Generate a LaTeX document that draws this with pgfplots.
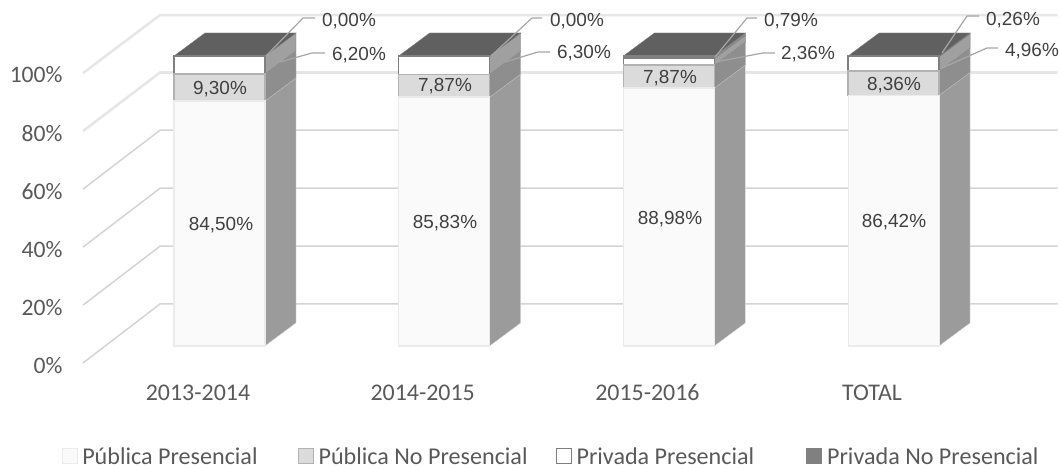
\documentclass[border=0pt]{standalone}
\usepackage{pgfplots}
\pgfplotsset{compat=1.18}
\usepackage{fontspec}
\setmainfont{Carlito}
\newfontfamily\arialf{Liberation Sans}
\definecolor{tickc}{HTML}{595959}
\definecolor{labc}{HTML}{404040}
\definecolor{gridc}{HTML}{D4D4D4}
\definecolor{gridt}{HTML}{E6E6E6}
\definecolor{leadc}{HTML}{A6A6A6}
\definecolor{sA}{HTML}{9B9B9B}
\definecolor{sB}{HTML}{8E8E8E}
\definecolor{sC}{HTML}{A0A0A0}
\definecolor{sD}{HTML}{8C8C8C}
\definecolor{topc}{HTML}{606060}
\pgfplotsset{
  base/.style={
    at={(70.07bp,91.1bp)},anchor=south west,
    scale only axis,width=988.68bp,height=365.4bp,
    xmin=-0.665,xmax=3.735,ymin=-11,ymax=115,
    clip=false,
    axis line style={draw=none},
    tick style={draw=none},
  }
}
\begin{document}
\begin{tikzpicture}[x=1bp,y=1bp]
\path (0,0) rectangle (1061,469);
% back wall, grid lines, side and top faces
\begin{axis}[base,
  xtick={-0.0957,0.9043,1.9043,2.9043},
  xticklabels={2013-2014,2014-2015,2015-2016,TOTAL},
  ytick={-6.55,13.5,33.6,53.7,73.7,93.8},
  yticklabels={0\%,20\%,40\%,60\%,80\%,100\%},
  yticklabel style={font=\fontsize{23.7}{23.7}\selectfont,text=tickc,xshift=-4bp,yshift=-1bp},
  xticklabel style={font=\fontsize{24}{24}\selectfont,text=tickc,text height=16bp,text depth=0bp,anchor=north,yshift=-3bp},
]
\foreach \ya/\yb in {-5.86/14.48,14.1/34.4,34.1/54.4,54.1/74.4}{
  \edef\tmp{\noexpand\addplot[gridc,line width=1.5bp,forget plot] coordinates {(-0.6075,\ya) (-0.2648,\yb) (3.73,\yb)};}
  \tmp
}
\foreach \ya/\yb in {74.1/94.3,94.1/114.1}{
  \edef\tmp{\noexpand\addplot[gridt,line width=2.6bp,forget plot] coordinates {(-0.6075,\ya) (-0.2648,\yb) (3.73,\yb)};}
  \tmp
}
% bar 1
\addplot[fill=sA,draw=white!90!black,forget plot] coordinates {(0.2025,0) (0.3405,7.93) (0.3405,92.43) (0.2025,84.5)} --cycle;
\addplot[fill=sB,draw=black!30,forget plot] coordinates {(0.2025,84.5) (0.3405,92.43) (0.3405,101.73) (0.2025,93.8)} --cycle;
\addplot[fill=sC,draw=gray,forget plot] coordinates {(0.2025,93.8) (0.3405,101.73) (0.3405,107.93) (0.2025,100)} --cycle;
\addplot[fill=topc,draw=gray,forget plot] coordinates {(-0.2025,100) (-0.0645,107.93) (0.3405,107.93) (0.2025,100)} --cycle;
% bar 2
\addplot[fill=sA,draw=white!90!black,forget plot] coordinates {(1.2025,0) (1.3405,7.93) (1.3405,93.76) (1.2025,85.83)} --cycle;
\addplot[fill=sB,draw=black!30,forget plot] coordinates {(1.2025,85.83) (1.3405,93.76) (1.3405,101.63) (1.2025,93.7)} --cycle;
\addplot[fill=sC,draw=gray,forget plot] coordinates {(1.2025,93.7) (1.3405,101.63) (1.3405,107.93) (1.2025,100)} --cycle;
\addplot[fill=topc,draw=gray,forget plot] coordinates {(0.7975,100) (0.9355,107.93) (1.3405,107.93) (1.2025,100)} --cycle;
% bar 3
\addplot[fill=sA,draw=white!90!black,forget plot] coordinates {(2.2025,0) (2.3405,7.93) (2.3405,96.91) (2.2025,88.98)} --cycle;
\addplot[fill=sB,draw=black!30,forget plot] coordinates {(2.2025,88.98) (2.3405,96.91) (2.3405,104.78) (2.2025,96.85)} --cycle;
\addplot[fill=sC,draw=gray,forget plot] coordinates {(2.2025,96.85) (2.3405,104.78) (2.3405,107.14) (2.2025,99.21)} --cycle;
\addplot[fill=sD,draw=gray,forget plot] coordinates {(2.2025,99.21) (2.3405,107.14) (2.3405,107.93) (2.2025,100)} --cycle;
\addplot[fill=topc,draw=gray,forget plot] coordinates {(1.7975,100) (1.9355,107.93) (2.3405,107.93) (2.2025,100)} --cycle;
% bar 4
\addplot[fill=sA,draw=white!90!black,forget plot] coordinates {(3.2025,0) (3.3405,7.93) (3.3405,94.35) (3.2025,86.42)} --cycle;
\addplot[fill=sB,draw=black!30,forget plot] coordinates {(3.2025,86.42) (3.3405,94.35) (3.3405,102.71) (3.2025,94.78)} --cycle;
\addplot[fill=sC,draw=gray,forget plot] coordinates {(3.2025,94.78) (3.3405,102.71) (3.3405,107.67) (3.2025,99.74)} --cycle;
\addplot[fill=sD,draw=gray,forget plot] coordinates {(3.2025,99.74) (3.3405,107.67) (3.3405,107.93) (3.2025,100)} --cycle;
\addplot[fill=topc,draw=gray,forget plot] coordinates {(2.7975,100) (2.9355,107.93) (3.3405,107.93) (3.2025,100)} --cycle;
\end{axis}
% front faces
\begin{axis}[base,ybar stacked,bar width=91bp,
  xtick=\empty,ytick=\empty,
  legend columns=4,
  legend cell align=left,
  legend style={draw=none,fill=none,at={(-8bp,-78.5bp)},anchor=west,
    font=\fontsize{24.2}{24.2}\selectfont,text=tickc,inner sep=0pt,
    /tikz/column 1/.style={column sep=2bp},
    /tikz/column 2/.style={column sep=38bp},
    /tikz/column 3/.style={column sep=3bp},
    /tikz/column 4/.style={column sep=26bp},
    /tikz/column 5/.style={column sep=3bp},
    /tikz/column 6/.style={column sep=50bp},
    /tikz/column 7/.style={column sep=3bp}},
  legend image code/.code={\draw[#1,line width=1bp] (0bp,-7.5bp) rectangle (15bp,7.5bp);},
]
\addplot[fill=black!2,draw=black!8,line width=1.2bp] coordinates {(0,84.5) (1,85.83) (2,88.98) (3,86.42)};
\addplot[fill=black!14,draw=black!30,line width=1.4bp] coordinates {(0,9.3) (1,7.87) (2,7.87) (3,8.36)};
\addplot[fill=white,draw=black!50,line width=1.4bp] coordinates {(0,6.2) (1,6.3) (2,2.36) (3,4.96)};
\addplot[fill=black!50,draw=black!50,line width=1.4bp] coordinates {(0,0) (1,0) (2,0.79) (3,0.26)};
\addlegendentry{Pública Presencial}
\addlegendentry{Pública No Presencial}
\addlegendentry{Privada Presencial}
\addlegendentry{Privada No Presencial}
\end{axis}
% data labels and leader lines (pixel positions)
\begin{scope}[yshift=469bp,y=-1bp,x=1bp,
   lab/.style={font=\arialf\fontsize{19}{19}\selectfont,text=labc,inner sep=0pt,anchor=center},
   lead/.style={draw=leadc,line width=1.2bp}]
\node[lab] at (221,225.5) {84,50\%};
\node[lab] at (220,89.5) {9,30\%};
\draw[lead] (266,56) -- (303,18) -- (315,18);
\draw[lead] (280,62) -- (312,53) -- (325,53);
\node[lab] at (349,21.5) {0,00\%};
\node[lab] at (359,55.5) {6,20\%};
\node[lab] at (445,223.5) {85,83\%};
\node[lab] at (445,86.5) {7,87\%};
\draw[lead] (491,56) -- (532,18) -- (542,18);
\draw[lead] (505,62) -- (538,52) -- (550,52);
\node[lab] at (577,21.5) {0,00\%};
\node[lab] at (584,53.5) {6,30\%};
\node[lab] at (670,219.5) {88,98\%};
\node[lab] at (670,78.5) {7,87\%};
\draw[lead] (715,57) -- (747,18) -- (757,18);
\draw[lead] (715,62) -- (763,53) -- (775,53);
\node[lab] at (791,21.5) {0,79\%};
\node[lab] at (808,54.5) {2,36\%};
\node[lab] at (894,222.5) {86,42\%};
\node[lab] at (894,85.5) {8,36\%};
\draw[lead] (942,53) -- (967,16) -- (979,16);
\draw[lead] (942,68) -- (987,48) -- (998,48);
\node[lab] at (1013,20.5) {0,26\%};
\node[lab] at (1032,51.5) {4,96\%};
\end{scope}
\end{tikzpicture}
\end{document}
